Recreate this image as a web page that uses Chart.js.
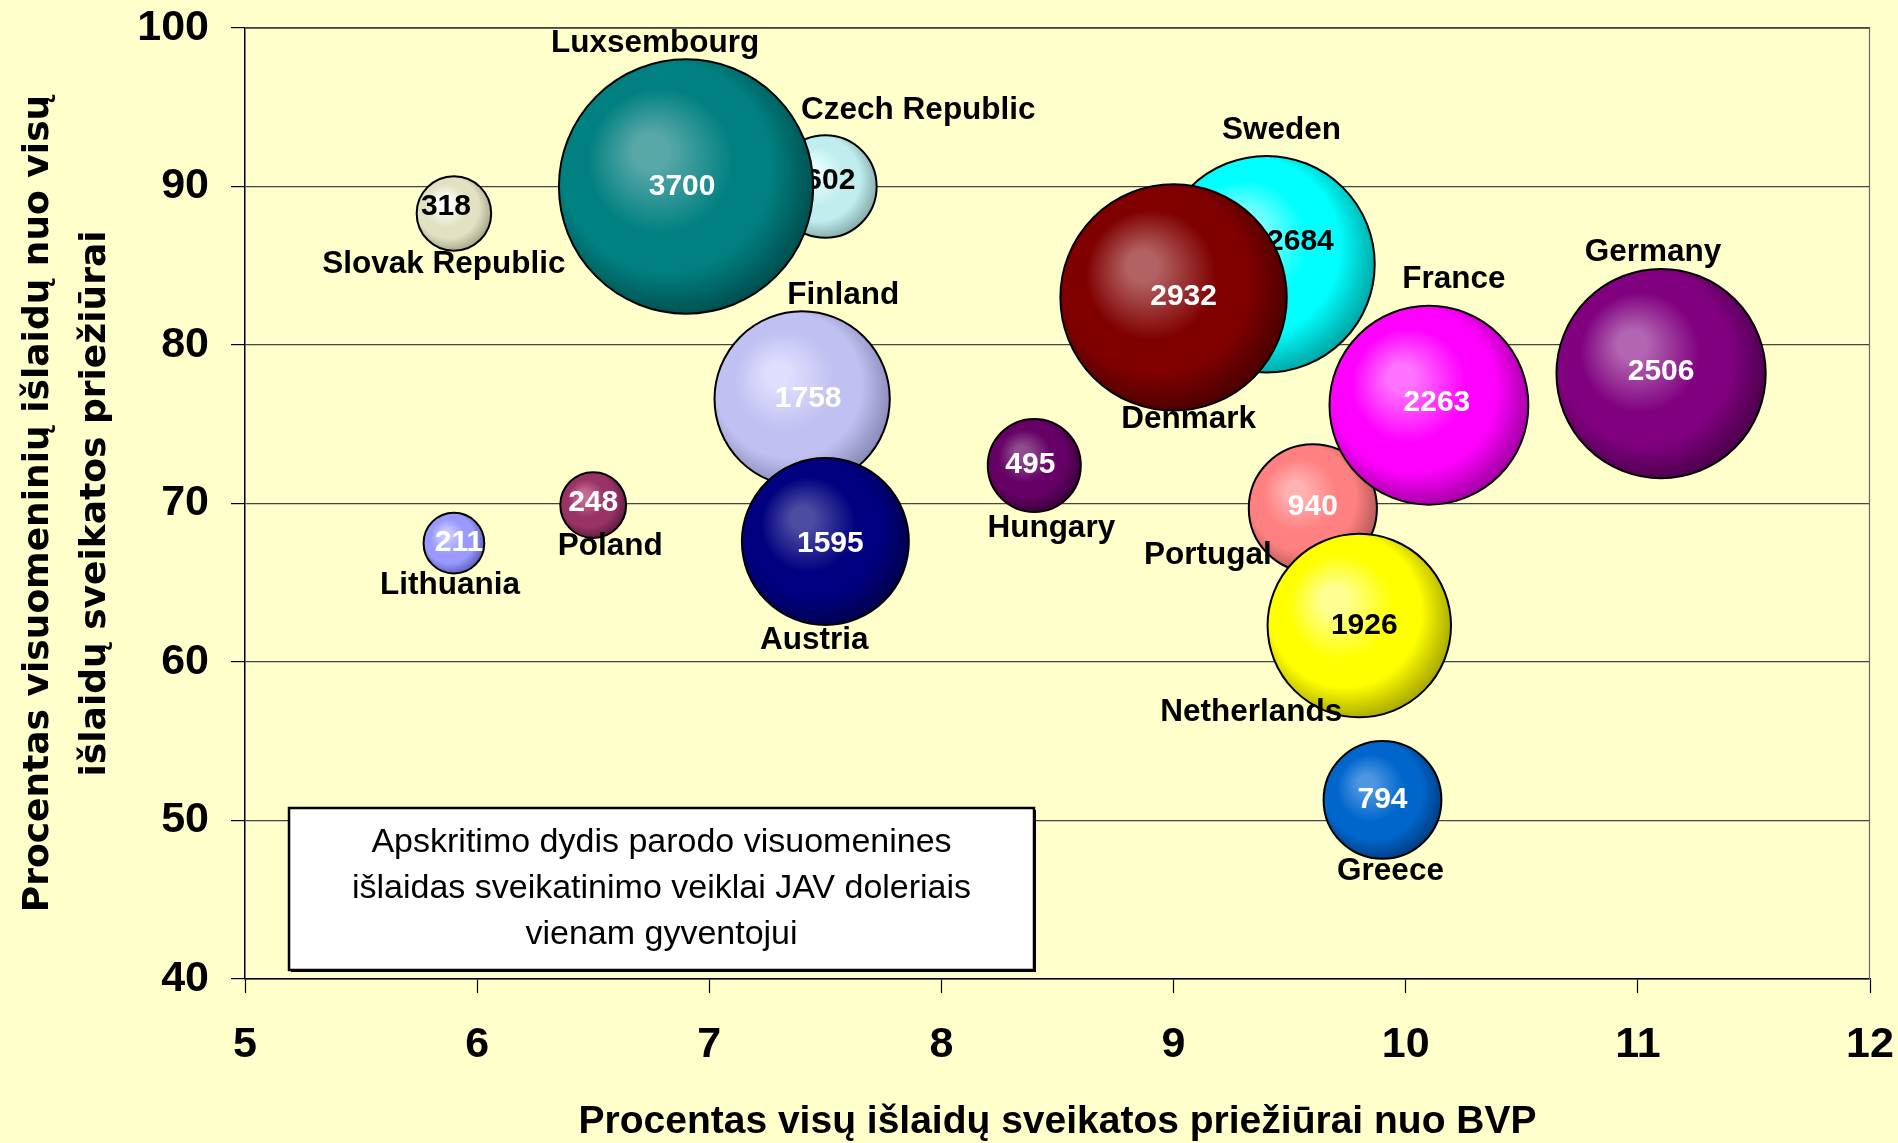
<!DOCTYPE html>
<html>
<head>
<meta charset="utf-8">
<script src="https://cdn.jsdelivr.net/npm/chart.js@4.4.1/dist/chart.umd.min.js"></script>
<style>
  html, body { margin: 0; padding: 0; background: #FFFFCC; }
  #wrap { width: 1898px; height: 1143px; }
  canvas { display: block; }
</style>
</head>
<body>
<div id="wrap"><canvas id="c" width="1898" height="1143"></canvas></div>
<script>
// ---------------- DATA ----------------
const countries = ['Czech Republic', 'Luxsembourg', 'Slovak Republic', 'Finland', 'Austria',
  'Poland', 'Lithuania', 'Hungary', 'Sweden', 'Denmark', 'Portugal', 'France', 'Germany',
  'Netherlands', 'Greece'];
// % of all health expenditure of GDP
const gdpShare = [7.5, 6.9, 5.9, 7.4, 7.5, 6.5, 5.9, 8.4, 9.4, 9.0, 9.6, 10.1, 11.1, 9.8, 9.9];
// % public expenditure of all health expenditure
const publicShare = [90.0, 90.0, 88.3, 76.6, 67.6, 69.9, 67.5, 72.4, 85.1, 83.0, 69.7, 76.2, 78.2, 62.3, 51.3];
// public health expenditure per capita, USD (bubble size)
const spendingPerCapita = [602, 3700, 318, 1758, 1595, 248, 211, 495, 2684, 2932, 940, 2263, 2506, 1926, 794];

const xTicks = [5, 6, 7, 8, 9, 10, 11, 12];
const yTicks = [40, 50, 60, 70, 80, 90, 100];
const xTitle = 'Procentas visų išlaidų sveikatos priežiūrai nuo BVP';
const yTitle = ['Procentas visuomeninių išlaidų nuo visų', 'išlaidų sveikatos priežiūrai'];
const noteLines = ['Apskritimo dydis parodo visuomenines', 'išlaidas sveikatinimo veiklai JAV doleriais', 'vienam gyventojui'];

// ---------------- STYLE ----------------
const FONT = '"Liberation Sans", Arial, Helvetica, sans-serif';
const BG = '#FFFFCC';
const RADIUS_SCALE = 2.09; // px per sqrt(USD): bubble area proportional to value
const palette = {
  'Czech Republic': ['#eaffff', '#c0eeee', '#84a8a8'],
  'Luxsembourg':    ['#58a8a8', '#008080', '#004c4c'],
  'Slovak Republic':['#ffffff', '#e2e2c2', '#a2a288'],
  'Finland':        ['#dedeff', '#c0c0f2', '#8888b6'],
  'Austria':        ['#4c4ca2', '#000080', '#00004a'],
  'Poland':         ['#c46a94', '#993366', '#5c1a3c'],
  'Lithuania':      ['#cacaff', '#9999ff', '#5c5cb6'],
  'Hungary':        ['#8e4e8e', '#660066', '#380038'],
  'Sweden':         ['#a0ffff', '#00ffff', '#00a2a2'],
  'Denmark':        ['#b26262', '#800000', '#480000'],
  'Portugal':       ['#ffb2b2', '#ff8080', '#b25858'],
  'France':         ['#ff72ff', '#ff00ff', '#9e009e'],
  'Germany':        ['#b266b2', '#800080', '#4a004a'],
  'Netherlands':    ['#ffff94', '#ffff00', '#a4a400'],
  'Greece':         ['#4e96e2', '#0066cc', '#003c7e']
};
const darkValueText = ['Czech Republic', 'Slovak Republic', 'Sweden', 'Netherlands'];
// label placement relative to bubble centre (px)
const nameOffset = {
  'Czech Republic': [93, -76], 'Luxsembourg': [-31, -143], 'Slovak Republic': [-10, 51],
  'Finland': [41, -104], 'Austria': [-11, 99], 'Poland': [17, 41], 'Lithuania': [-4, 42],
  'Hungary': [17, 63], 'Sweden': [15, -134], 'Denmark': [15, 122], 'Portugal': [-105, 47],
  'France': [25, -126], 'Germany': [-8, -121], 'Netherlands': [-108, 87], 'Greece': [8, 71]
};
const valueOffset = {
  'Czech Republic': [5, -6], 'Luxsembourg': [-4, 0], 'Slovak Republic': [-8, -7],
  'Finland': [6, 0], 'Austria': [5, 2], 'Poland': [0, -2], 'Lithuania': [5, 0],
  'Hungary': [-4, -1], 'Sweden': [34, -22], 'Denmark': [10, -1], 'Portugal': [0, -2],
  'France': [8, -2], 'Germany': [0, -2], 'Netherlands': [5, 0], 'Greece': [0, 0]
};

function bubbleFill(ctx) {
  const chart = ctx.chart;
  const name = ctx.dataset.label;
  const cols = palette[name];
  if (ctx.type !== 'data' || !chart.chartArea) return cols[1];
  const raw = ctx.raw;
  const px = chart.scales.x.getPixelForValue(raw.x);
  const py = chart.scales.y.getPixelForValue(raw.y);
  const r = raw.r;
  const g = chart.ctx.createRadialGradient(px - 0.3 * r, py - 0.3 * r, 0, px - 0.1 * r, py - 0.1 * r, r * 1.15);
  g.addColorStop(0, cols[0]);
  g.addColorStop(0.12, cols[0]);
  g.addColorStop(0.5, cols[1]);
  g.addColorStop(0.72, cols[1]);
  g.addColorStop(1, cols[2]);
  return g;
}

const N = countries.length;
const datasets = countries.map((name, i) => ({
  label: name,
  data: [{ x: gdpShare[i], y: publicShare[i], r: RADIUS_SCALE * Math.sqrt(spendingPerCapita[i]), v: spendingPerCapita[i] }],
  backgroundColor: bubbleFill,
  borderColor: '#000000',
  borderWidth: 2,
  order: N - i
}));

const bgPlugin = {
  id: 'bg',
  beforeDraw(chart) {
    const c = chart.ctx;
    c.save();
    c.fillStyle = BG;
    c.fillRect(0, 0, chart.width, chart.height);
    c.restore();
  },
  beforeDatasetsDraw(chart) {
    const c = chart.ctx, a = chart.chartArea;
    c.save();
    c.strokeStyle = '#666666';
    c.lineWidth = 1.2;
    c.beginPath();
    c.moveTo(a.left, a.top + 0.5);
    c.lineTo(a.right, a.top + 0.5);
    c.moveTo(a.right - 0.5, a.top);
    c.lineTo(a.right - 0.5, a.bottom);
    c.stroke();
    c.restore();
  }
};

const labelPlugin = {
  id: 'labels',
  afterDatasetDraw(chart, args) {
    const meta = args.meta;
    const el = meta.data[0];
    if (!el) return;
    const name = chart.data.datasets[args.index].label;
    const val = chart.data.datasets[args.index].data[0].v;
    const off = valueOffset[name];
    const c = chart.ctx;
    c.save();
    c.font = 'bold 30px ' + FONT;
    c.textAlign = 'center';
    c.textBaseline = 'middle';
    c.fillStyle = darkValueText.includes(name) ? '#000000' : '#ffffff';
    c.fillText(String(val), el.x + off[0], el.y + off[1]);
    c.restore();
  },
  afterDatasetsDraw(chart) {
    const c = chart.ctx;
    c.save();
    c.font = 'bold 31.5px ' + FONT;
    c.textAlign = 'center';
    c.textBaseline = 'middle';
    c.fillStyle = '#000000';
    chart.data.datasets.forEach((ds, i) => {
      const el = chart.getDatasetMeta(i).data[0];
      const off = nameOffset[ds.label];
      c.fillText(ds.label, el.x + off[0], el.y + off[1]);
    });
    c.restore();
  },
  afterDraw(chart) {
    const c = chart.ctx, a = chart.chartArea;
    const bx = a.left + 44, by = a.top + 780, bw = 745, bh = 162;
    c.save();
    c.fillStyle = '#000000';
    c.fillRect(bx + 2, by + 2, bw, bh);
    c.fillStyle = '#ffffff';
    c.fillRect(bx, by, bw, bh);
    c.strokeStyle = '#000000';
    c.lineWidth = 2.5;
    c.strokeRect(bx, by, bw, bh);
    c.font = '34px ' + FONT;
    c.textAlign = 'center';
    c.textBaseline = 'middle';
    c.fillStyle = '#000000';
    const lh = 46;
    const cy = by + bh / 2;
    noteLines.forEach((t, k) => {
      c.fillText(t, bx + bw / 2, cy + (k - (noteLines.length - 1) / 2) * lh);
    });
    c.restore();
  }
};

new Chart(document.getElementById('c'), {
  type: 'bubble',
  data: { datasets },
  options: {
    responsive: false,
    devicePixelRatio: 1,
    animation: false,
    events: [],
    layout: { autoPadding: false, padding: { top: 28, right: 28, bottom: 0, left: 0 } },
    plugins: { legend: { display: false }, tooltip: { enabled: false } },
    scales: {
      x: {
        type: 'linear', min: 5, max: 12,
        afterBuildTicks: s => { s.ticks = xTicks.map(v => ({ value: v })); },
        afterFit: s => { s.height = 164; s.paddingLeft = 0; s.paddingRight = 0; },
        ticks: { font: { family: FONT, size: 43, weight: 'bold' }, color: '#000', padding: 26, maxRotation: 0 },
        grid: { drawOnChartArea: false, drawTicks: true, tickLength: 14, tickColor: '#000', tickWidth: 1.2 },
        border: { display: true, color: '#000', width: 1.5 },
        title: { display: true, text: xTitle, color: '#000',
          font: { family: FONT, size: 39, weight: 'bold', lineHeight: 1.05 }, padding: { top: 0, bottom: 0 } }
      },
      y: {
        type: 'linear', min: 40, max: 100,
        afterBuildTicks: s => { s.ticks = yTicks.map(v => ({ value: v })); },
        afterFit: s => { s.width = 245; s.paddingTop = 0; s.paddingBottom = 0; },
        ticks: { font: { family: FONT, size: 43, weight: 'bold' }, color: '#000', padding: 22 },
        grid: { color: '#444444', lineWidth: 1.2, drawTicks: true, tickLength: 14, tickColor: '#000', tickWidth: 1.2 },
        border: { display: true, color: '#000', width: 1.5 },
        title: { display: true, text: yTitle, color: '#000',
          font: { family: '"DejaVu Sans", sans-serif', size: 36, weight: 'bold', lineHeight: 1.58 }, padding: { top: 10, bottom: 0 } }
      }
    }
  },
  plugins: [bgPlugin, labelPlugin]
});
</script>
</body>
</html>
